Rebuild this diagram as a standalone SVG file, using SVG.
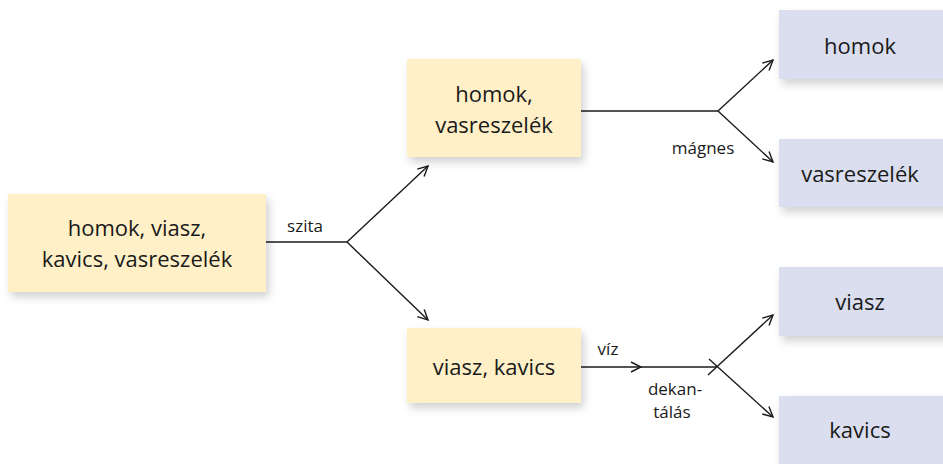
<svg xmlns="http://www.w3.org/2000/svg" width="943" height="464" viewBox="0 0 943 464">
<defs>
<filter id="sh" x="-10%" y="-20%" width="130%" height="150%">
<feDropShadow dx="3" dy="5" stdDeviation="4" flood-color="#000" flood-opacity="0.18"/>
</filter>
<marker id="ah" viewBox="0 0 12 12" refX="11" refY="6" markerWidth="12" markerHeight="12" markerUnits="userSpaceOnUse" orient="auto">
<path d="M1,1 L11,6 L1,11" fill="none" stroke="#1a1a1a" stroke-width="1.4"/>
</marker>
</defs>
<style>
.y{fill:#FFF0C8;filter:url(#sh)}
.b{fill:#DADEEE;filter:url(#sh)}
.t{font-family:"Open Sans","Noto Sans",sans-serif;font-size:22px;fill:#1a1a1a;text-anchor:middle}
.l{font-family:"Open Sans","Noto Sans",sans-serif;font-size:17px;fill:#1a1a1a;text-anchor:middle}
.c{fill:none;stroke:#1a1a1a;stroke-width:1.4}
</style>
<rect width="943" height="464" fill="#fff"/>
<g id="connectors">
<path class="c" d="M266,242 H347"/>
<path class="c" d="M347,242 L428,166" marker-end="url(#ah)"/>
<path class="c" d="M347,242 L428,320" marker-end="url(#ah)"/>
<path class="c" d="M581,111 H718"/>
<path class="c" d="M718,111 L773,60" marker-end="url(#ah)"/>
<path class="c" d="M718,111 L773,162" marker-end="url(#ah)"/>
<path class="c" d="M581,367 H641" marker-end="url(#ah)"/>
<path class="c" d="M641,367 H717"/>
<path class="c" d="M708,375 L773,315" marker-end="url(#ah)"/>
<path class="c" d="M709,359 L773,417" marker-end="url(#ah)"/>
<text class="l" x="305" y="232">szita</text>
<text class="l" x="703" y="154">mágnes</text>
<text class="l" x="608" y="355">víz</text>
<text class="l" x="675" y="395">dekan-</text>
<text class="l" x="672" y="418">tálás</text>
</g>
<g id="n1">
<rect class="y" x="8" y="194" width="258" height="98"/>
<text class="t" x="137" y="236">homok, viasz,</text>
<text class="t" x="137" y="267">kavics, vasreszelék</text>
</g>
<g id="n2">
<rect class="y" x="407" y="59" width="174" height="98"/>
<text class="t" x="494" y="102">homok,</text>
<text class="t" x="494" y="133">vasreszelék</text>
</g>
<g id="n3">
<rect class="y" x="407" y="328" width="174" height="75"/>
<text class="t" x="494" y="375">viasz, kavics</text>
</g>
<g id="n4">
<rect class="b" x="779" y="10" width="170" height="69"/>
<text class="t" x="860" y="54">homok</text>
</g>
<g id="n5">
<rect class="b" x="779" y="139" width="170" height="68"/>
<text class="t" x="860" y="182">vasreszelék</text>
</g>
<g id="n6">
<rect class="b" x="779" y="267" width="170" height="69"/>
<text class="t" x="860" y="310">viasz</text>
</g>
<g id="n7">
<rect class="b" x="779" y="396" width="170" height="70"/>
<text class="t" x="860" y="438">kavics</text>
</g>
</svg>
